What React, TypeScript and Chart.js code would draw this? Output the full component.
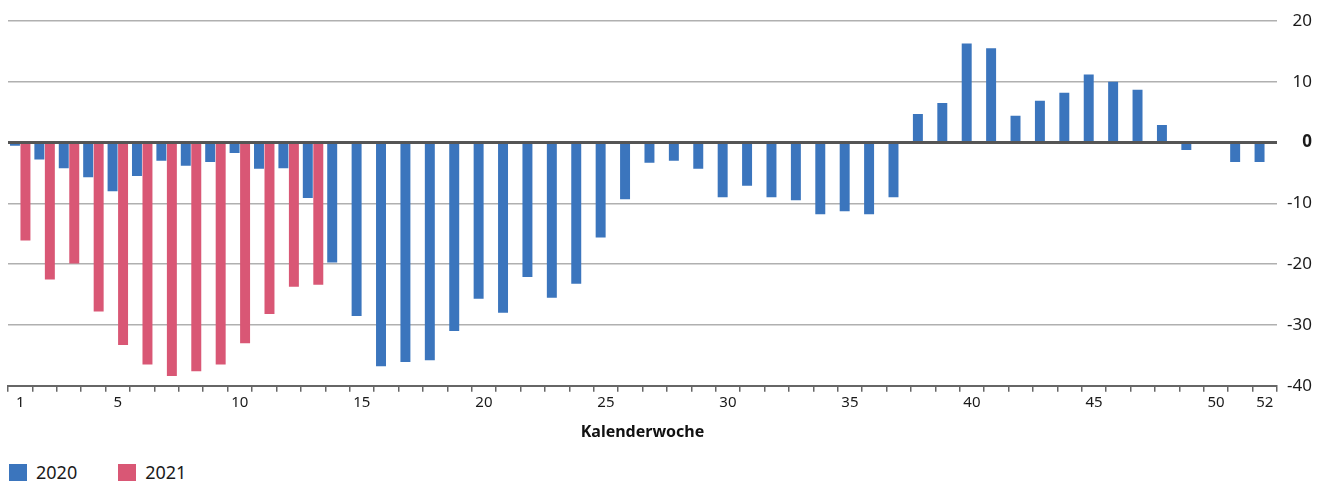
import React, { useEffect, useRef } from "react";
import { Chart, registerables } from "chart.js";

Chart.register(...registerables);

const weeks: string[] = Array.from({ length: 52 }, (_, i) => String(i + 1));
const shownWeekLabels: string[] = ["1", "5", "10", "15", "20", "25", "30", "35", "40", "45", "50", "52"];

const values2020: (number | null)[] = [
  -0.5, -2.8, -4.2, -5.7, -8.0, -5.5, -3.0, -3.8, -3.2, -1.7,
  -4.3, -4.2, -9.1, -19.7, -28.5, -36.8, -36.1, -35.8, -31.0, -25.7,
  -28.0, -22.1, -25.5, -23.2, -15.6, -9.3, -3.3, -3.0, -4.3, -9.0,
  -7.1, -9.0, -9.5, -11.8, -11.3, -11.8, -9.0, 4.7, 6.5, 16.3,
  15.5, 4.4, 6.9, 8.2, 11.2, 10.0, 8.7, 2.9, -1.2, null,
  -3.2, -3.2,
];

const values2021: (number | null)[] = [
  -16.1, -22.5, -19.9, -27.8, -33.3, -36.5, -38.4, -37.6, -36.5, -33.0,
  -28.2, -23.7, -23.4,
];

const yTicks: number[] = [20, 10, 0, -10, -20, -30, -40];
const seriesNames: string[] = ["2020", "2021"];

const BLUE = "#3b75bd";
const RED = "#d95775";
const FONT = "'Noto Sans', sans-serif";

const rightLabels = {
  id: "rightLabels",
  afterDraw(chart: any) {
    const { ctx, chartArea } = chart;
    const y = chart.scales.y;
    ctx.save();
    ctx.fillStyle = "#1a1a1a";
    ctx.textAlign = "right";
    ctx.textBaseline = "middle";
    yTicks.forEach((v) => {
      ctx.font = `${v === 0 ? "bold " : ""}17px ${FONT}`;
      ctx.fillText(String(v), chartArea.right + 35, y.getPixelForValue(v));
    });
    ctx.restore();
  },
};

export default function App() {
  const canvasRef = useRef<HTMLCanvasElement | null>(null);

  useEffect(() => {
    document.body.style.margin = "0";
    const canvas = canvasRef.current;
    if (!canvas) return;
    const chart = new Chart(canvas, {
      type: "bar",
      data: {
        labels: weeks,
        datasets: [
          {
            label: seriesNames[0],
            data: values2020,
            backgroundColor: BLUE,
            borderWidth: 0,
            categoryPercentage: 0.86,
            barPercentage: 0.95,
          },
          {
            label: seriesNames[1],
            data: values2021,
            backgroundColor: RED,
            borderWidth: 0,
            categoryPercentage: 0.86,
            barPercentage: 0.95,
          },
        ],
      },
      options: {
        animation: false,
        responsive: true,
        maintainAspectRatio: false,
        layout: { padding: { left: 8, right: 0, top: 21, bottom: 0 } },
        plugins: {
          tooltip: { enabled: false },
          legend: { display: false },
        },
        scales: {
          x: {
            offset: true,
            grid: {
              offset: true,
              drawOnChartArea: false,
              drawTicks: true,
              tickLength: 6,
              color: "#666",
              lineWidth: 1.5,
            },
            border: { display: true, color: "#666", width: 2 },
            ticks: {
              autoSkip: false,
              maxRotation: 0,
              color: "#1a1a1a",
              font: { family: FONT, size: 15 },
              padding: 2,
              callback: (_v: any, i: number) =>
                shownWeekLabels.includes(weeks[i]) ? weeks[i] : "",
            },
            title: {
              display: true,
              text: "Kalenderwoche",
              color: "#111",
              font: { family: FONT, size: 16, weight: "bold" },
              padding: { top: 9, bottom: 8 },
            },
          },
          y: {
            position: "right",
            min: -40,
            max: 20,
            afterBuildTicks: (axis: any) => {
              axis.ticks = yTicks.map((v) => ({ value: v }));
            },
            afterFit: (axis: any) => {
              axis.width = 42;
            },
            grid: {
              drawTicks: false,
              color: (ctx: any) => (ctx.tick && ctx.tick.value === 0 ? "#555" : "#b0b0b0"),
              lineWidth: (ctx: any) => (ctx.tick && ctx.tick.value === 0 ? 3 : 1.5),
            },
            border: { display: false },
            ticks: { display: false },
          },
        },
      } as any,
      plugins: [rightLabels],
    });
    return () => chart.destroy();
  }, []);

  const colors = [BLUE, RED];

  return (
    <div style={{ width: 1319, height: 482, position: "relative", overflow: "hidden" }}>
      <div style={{ width: 1319, height: 450, position: "relative" }}>
        <canvas ref={canvasRef} />
      </div>
      <div
        style={{
          position: "absolute",
          left: 9,
          top: 464,
          display: "flex",
          alignItems: "center",
          fontFamily: FONT,
          fontSize: 18,
          lineHeight: "17px",
          color: "#1a1a1a",
        }}
      >
        {seriesNames.map((name, i) => (
          <div key={name} style={{ display: "flex", alignItems: "center", marginRight: 41 }}>
            <span style={{ display: "inline-block", width: 18, height: 17, background: colors[i], marginRight: 9 }} />
            <span>{name}</span>
          </div>
        ))}
      </div>
    </div>
  );
}
